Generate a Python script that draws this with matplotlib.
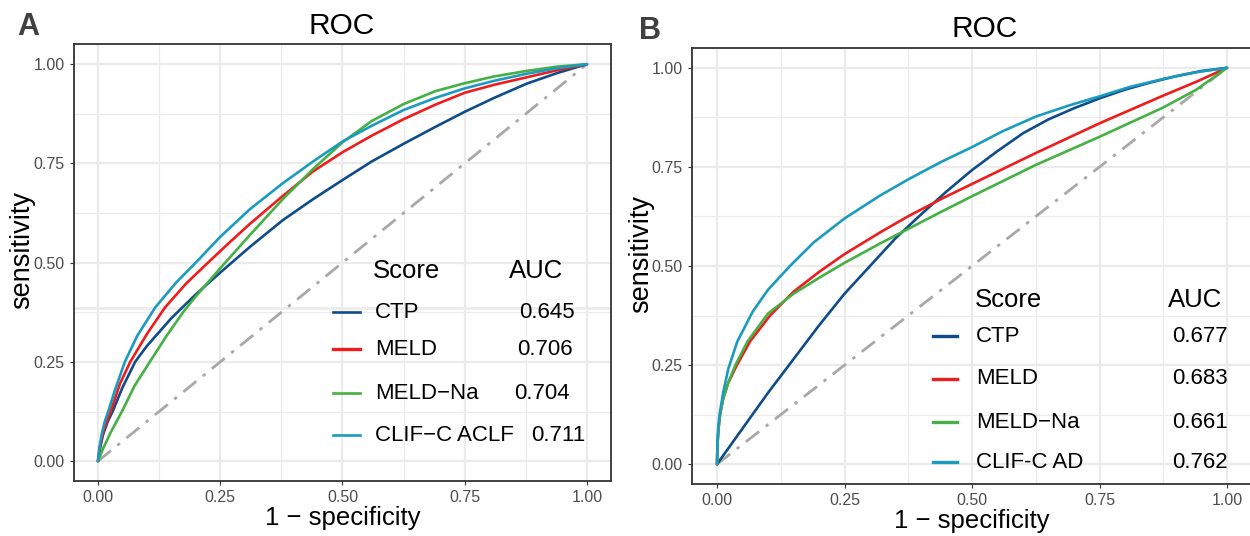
import matplotlib; matplotlib.use("Agg")
import matplotlib.pyplot as plt
from matplotlib.ticker import MultipleLocator

plt.rcParams["font.family"] = ["Liberation Sans", "DejaVu Sans"]

SCORES_A = ["CTP", "MELD", "MELD\u2212Na", "CLIF\u2212C ACLF"]
AUC_A = ["0.645", "0.706", "0.704", "0.711"]
SCORES_B = ["CTP", "MELD", "MELD\u2212Na", "CLIF-C AD"]
AUC_B = ["0.677", "0.683", "0.661", "0.762"]

# panel A curves (1 - specificity, sensitivity)
A_CTP_X = [0, 0.004, 0.01, 0.02, 0.03, 0.05, 0.076, 0.1, 0.15, 0.2, 0.25, 0.311, 0.378,
           0.44, 0.5, 0.56, 0.626, 0.69, 0.75, 0.81, 0.877, 0.94, 1]
A_CTP_Y = [0, 0.03, 0.065, 0.1, 0.125, 0.185, 0.25, 0.29, 0.36, 0.42, 0.475, 0.54, 0.607,
           0.66, 0.708, 0.755, 0.80, 0.842, 0.88, 0.915, 0.951, 0.978, 1]
A_MELD_X = [0, 0.004, 0.01, 0.018, 0.026, 0.045, 0.066, 0.1, 0.137, 0.18, 0.225, 0.27, 0.311,
            0.378, 0.44, 0.5, 0.56, 0.626, 0.69, 0.75, 0.81, 0.877, 0.94, 1]
A_MELD_Y = [0, 0.035, 0.07, 0.1, 0.125, 0.195, 0.25, 0.32, 0.387, 0.447, 0.5, 0.552, 0.598,
            0.668, 0.73, 0.778, 0.82, 0.862, 0.898, 0.928, 0.948, 0.967, 0.985, 1]
A_NA_X = [0, 0.01, 0.025, 0.049, 0.075, 0.106, 0.14, 0.174, 0.2, 0.253, 0.311, 0.378, 0.44,
          0.5, 0.56, 0.626, 0.69, 0.75, 0.81, 0.877, 0.94, 1]
A_NA_Y = [0, 0.03, 0.07, 0.125, 0.19, 0.25, 0.315, 0.375, 0.415, 0.49, 0.57, 0.66, 0.736,
          0.803, 0.857, 0.9, 0.932, 0.952, 0.969, 0.983, 0.994, 1]
A_CLIF_X = [0, 0.003, 0.008, 0.014, 0.021, 0.035, 0.055, 0.08, 0.117, 0.16, 0.2, 0.25, 0.311,
            0.378, 0.44, 0.5, 0.56, 0.626, 0.69, 0.75, 0.81, 0.877, 0.94, 1]
A_CLIF_Y = [0, 0.035, 0.07, 0.1, 0.125, 0.18, 0.25, 0.315, 0.387, 0.45, 0.5, 0.565, 0.635,
            0.7, 0.755, 0.805, 0.845, 0.885, 0.915, 0.939, 0.958, 0.976, 0.99, 1]

# panel B curves
B_CTP_X = [0, 0.05, 0.1, 0.15, 0.2, 0.25, 0.3, 0.35, 0.4, 0.45, 0.5, 0.55, 0.6, 0.65,
           0.7, 0.75, 0.8, 0.85, 0.9, 0.95, 1]
B_CTP_Y = [0, 0.09, 0.18, 0.265, 0.35, 0.43, 0.5, 0.57, 0.63, 0.688, 0.742, 0.79, 0.835,
           0.87, 0.898, 0.923, 0.945, 0.963, 0.979, 0.992, 1]
B_MELD_X = [0, 0.001, 0.003, 0.006, 0.012, 0.022, 0.039, 0.065, 0.104, 0.15, 0.2, 0.25,
            0.32, 0.377, 0.444, 0.5, 0.625, 0.75, 0.875, 0.94, 1]
B_MELD_Y = [0, 0.05, 0.09, 0.125, 0.165, 0.205, 0.25, 0.31, 0.375, 0.435, 0.485, 0.53,
            0.585, 0.627, 0.672, 0.707, 0.785, 0.86, 0.93, 0.965, 1]
B_NA_X = [0, 0.001, 0.003, 0.006, 0.012, 0.022, 0.036, 0.06, 0.1, 0.15, 0.2, 0.25,
          0.32, 0.377, 0.44, 0.5, 0.625, 0.75, 0.875, 0.94, 1]
B_NA_Y = [0, 0.05, 0.09, 0.125, 0.165, 0.205, 0.25, 0.31, 0.38, 0.43, 0.47, 0.508,
          0.557, 0.595, 0.637, 0.676, 0.755, 0.826, 0.9, 0.945, 1]
B_CLIF_X = [0, 0.001, 0.0025, 0.005, 0.012, 0.022, 0.04, 0.07, 0.1, 0.143, 0.19, 0.25,
            0.32, 0.377, 0.44, 0.5, 0.56, 0.625, 0.69, 0.75, 0.81, 0.875, 0.94, 1]
B_CLIF_Y = [0, 0.06, 0.095, 0.125, 0.18, 0.24, 0.31, 0.385, 0.44, 0.5, 0.56, 0.62,
            0.678, 0.72, 0.763, 0.8, 0.84, 0.877, 0.905, 0.928, 0.952, 0.972, 0.989, 1]

COLORS = ["#0F4C8A", "#EE1C1C", "#45B044", "#1A9BC0"]
GRID, TICK, BORDER = "#EBEBEB", "#4D4D4D", "#333333"


def setup(ax, ylab_x, ylab_y):
    ax.set_xlim(-0.05, 1.05)
    ax.set_ylim(-0.05, 1.05)
    for a in (ax.xaxis, ax.yaxis):
        a.set_major_locator(MultipleLocator(0.25))
        a.set_minor_locator(MultipleLocator(0.125))
    ax.set_xticks([0, 0.25, 0.5, 0.75, 1])
    ax.set_xticklabels(["0.00", "0.25", "0.50", "0.75", "1.00"])
    ax.set_yticks([0, 0.25, 0.5, 0.75, 1])
    ax.set_yticklabels(["0.00", "0.25", "0.50", "0.75", "1.00"])
    ax.grid(which="major", color=GRID, lw=1.6, zorder=0)
    ax.grid(which="minor", color=GRID, lw=0.8, zorder=0)
    ax.set_axisbelow(True)
    ax.tick_params(which="major", length=3, width=0.8, color=BORDER,
                   labelsize=11.5, labelcolor=TICK)
    ax.tick_params(which="minor", length=0)
    for s in ax.spines.values():
        s.set_color(BORDER); s.set_linewidth(1.3)
    ax.set_xlabel("1 \u2212 specificity", fontsize=18.5, labelpad=1)
    ax.text(ylab_x, ylab_y, "sensitivity", fontsize=19.5, rotation=90,
            ha="center", va="center", transform=ax.transAxes)
    ax.plot([0, 1], [0, 1], color="#A8A8A8", lw=2, ls=(0, (6, 3, 1.2, 3)), zorder=2)


fig = plt.figure(figsize=(12.5, 5.36), dpi=100)
ax_a = fig.add_axes([0.0588, 0.1026, 0.4303, 0.8147])
ax_b = fig.add_axes([0.5532, 0.097, 0.4488, 0.8134])

curves_a = [(A_CTP_X, A_CTP_Y), (A_MELD_X, A_MELD_Y), (A_NA_X, A_NA_Y), (A_CLIF_X, A_CLIF_Y)]
curves_b = [(B_CTP_X, B_CTP_Y), (B_MELD_X, B_MELD_Y), (B_NA_X, B_NA_Y), (B_CLIF_X, B_CLIF_Y)]

for ax, curves, lx, ly in [(ax_a, curves_a, -0.096, 0.529), (ax_b, curves_b, -0.09, 0.5275)]:
    setup(ax, lx, ly)
    for (xs, ys), c in zip(curves, COLORS):
        ax.plot(xs, ys, color=c, lw=1.9, zorder=3, solid_capstyle="round",
                solid_joinstyle="round")

# stray light rule behind legend A, as in the source figure
ax_a.axhline(0.387, color=GRID, lw=1.8, zorder=0)

# legend A
ax_a.text(0.563, 0.48, "Score", fontsize=18.5, va="center")
ax_a.text(0.84, 0.48, "AUC", fontsize=18.5, va="center")
rows_a = [0.375, 0.282, 0.171, 0.065]
val_right_a = [0.975, 0.970, 0.965, 0.997]
for i, (lab, v) in enumerate(zip(SCORES_A, AUC_A)):
    y = rows_a[i]
    ax_a.plot([0.48, 0.536], [y, y], color=COLORS[i], lw=2.4 if i == 1 else 1.9, zorder=4)
    ax_a.text(0.566, y, lab, fontsize=16, va="center")
    ax_a.text(val_right_a[i], y, v, fontsize=16, va="center", ha="right")

# legend B
ax_b.text(0.506, 0.414, "Score", fontsize=18.5, va="center")
ax_b.text(0.885, 0.414, "AUC", fontsize=18.5, va="center")
rows_b = [0.323, 0.215, 0.106, 0.005]
for i, (lab, v) in enumerate(zip(SCORES_B, AUC_B)):
    y = rows_b[i]
    ax_b.plot([0.424, 0.471], [y, y], color=COLORS[i], lw=2.4, zorder=4)
    ax_b.text(0.508, y, lab, fontsize=16, va="center")
    ax_b.text(1.002, y, v, fontsize=16, va="center", ha="right")

fig.text(342 / 1250, 1 - 26 / 536, "ROC", fontsize=21.5, ha="center", va="center")
fig.text(985 / 1250, 1 - 29 / 536, "ROC", fontsize=21.5, ha="center", va="center")
fig.text(28 / 1250, 1 - 27 / 536, "A", fontsize=22, fontweight="bold", color="#404040",
         ha="center", va="center")
fig.text(650 / 1250, 1 - 31 / 536, "B", fontsize=22, fontweight="bold", color="#404040",
         ha="center", va="center")

fig.savefig("out.png", dpi=100)
